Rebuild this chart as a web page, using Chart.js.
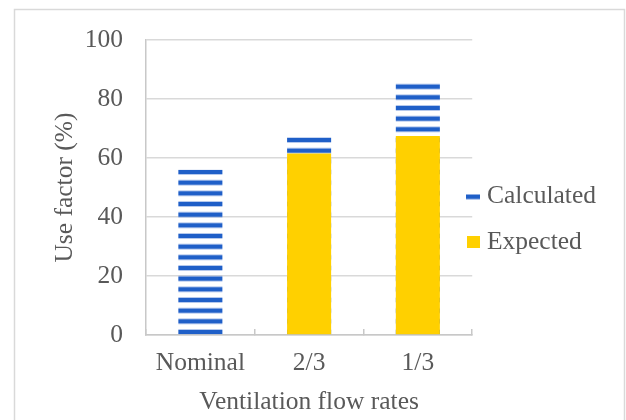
<!DOCTYPE html>
<html>
<head>
<meta charset="utf-8">
<script src="https://cdn.jsdelivr.net/npm/chart.js@4/dist/chart.umd.min.js"></script>
<style>
  html, body { margin: 0; padding: 0; background: #ffffff; }
  #wrap { width: 626px; height: 420px; position: relative; }
</style>
</head>
<body>
<div id="wrap"><canvas id="c" width="626" height="420"></canvas></div>
<script>
// Use factor per ventilation flow rate
const categories = ['Nominal', '2/3', '1/3'];
const calculated = [56, 67, 86];
const expected = [null, 61.5, 67.5];
const yTicks = [0, 20, 40, 60, 80, 100];

const TEXT = '#595959';
const FONT = { family: "'Liberation Serif', 'Times New Roman', serif", size: 25.5 };
const BLUE = '#1f5fc8';
const YELLOW = '#ffd000';

// Horizontal stripe fill for the calculated bars (period ~10.67px)
function stripePattern() {
  const tile = document.createElement('canvas');
  tile.width = 8; tile.height = 32;
  const g = tile.getContext('2d');
  const period = 32 / 3;
  for (let k = 0; k < 3; k++) {
    const t = 9 + k * period;
    for (const top of [t, t - 32]) {
      g.fillStyle = 'rgba(90,135,215,0.45)';
      g.fillRect(0, top, 8, 6);
      g.fillStyle = BLUE;
      g.fillRect(0, top + 1, 8, 4);
    }
  }
  return document.getElementById('c').getContext('2d').createPattern(tile, 'repeat');
}

function markCalculated() {
  const m = document.createElement('canvas');
  m.width = 14; m.height = 6;
  const g = m.getContext('2d');
  g.fillStyle = 'rgba(90,135,215,0.45)';
  g.fillRect(0, 0, 14, 6);
  g.fillStyle = BLUE;
  g.fillRect(0, 1, 14, 4);
  return m;
}
function markExpected() {
  const m = document.createElement('canvas');
  m.width = 13; m.height = 12;
  const g = m.getContext('2d');
  g.fillStyle = YELLOW;
  g.fillRect(0, 0, 13, 12);
  return m;
}
const markers = [markCalculated(), markExpected()];

// Outer frame around the whole figure
const framePlugin = {
  id: 'frame',
  beforeDraw(chart) {
    const ctx = chart.ctx;
    ctx.save();
    ctx.strokeStyle = '#d9d9d9';
    ctx.lineWidth = 1.5;
    ctx.strokeRect(14.5, 9.5, 610, 420);
    ctx.restore();
  }
};

// Nudge the legend so it sits tight against the plot
const legendNudge = {
  id: 'legendNudge',
  afterLayout(chart) {
    const lg = chart.legend;
    if (!lg) return;
    const dx = -20, dy = -10.5;
    lg.left += dx; lg.right += dx;
    lg.top += dy; lg.bottom += dy;
  }
};

new Chart(document.getElementById('c'), {
  type: 'bar',
  data: {
    labels: categories,
    datasets: [
      { label: 'Calculated', data: calculated, backgroundColor: stripePattern(), borderWidth: 0, order: 1 },
      { label: 'Expected', data: expected, backgroundColor: YELLOW, borderWidth: 0, order: 0 }
    ]
  },
  options: {
    responsive: false,
    animation: false,
    devicePixelRatio: 1,
    categoryPercentage: 1.0,
    barPercentage: 0.405,
    layout: { padding: { top: 40, right: 0, bottom: 0, left: 0 } },
    plugins: {
      tooltip: { enabled: false },
      legend: {
        position: 'right',
        maxWidth: 155,
        labels: {
          usePointStyle: true,
          pointStyleWidth: 2,
          padding: 20,
          color: TEXT,
          font: FONT,
          generateLabels: chart => chart.data.datasets.map((ds, i) => ({
            text: ds.label,
            fillStyle: 'transparent',
            strokeStyle: 'transparent',
            lineWidth: 0,
            pointStyle: markers[i],
            datasetIndex: i,
            hidden: false,
            fontColor: TEXT
          }))
        }
      }
    },
    scales: {
      x: {
        stacked: true,
        grid: { offset: true, drawOnChartArea: false, drawTicks: true, tickLength: -6, color: '#c8c8c8', lineWidth: 1.5 },
        border: { color: '#c8c8c8', width: 1.5 },
        ticks: { color: TEXT, font: FONT, padding: 19, maxRotation: 0 },
        title: { display: true, text: 'Ventilation flow rates', color: TEXT, font: FONT, padding: { top: 0, bottom: 2.7 } },
        afterFit(scale) { scale.height = 85; }
      },
      y: {
        min: 0,
        max: 100,
        grid: { color: '#d9d9d9', lineWidth: 1.5, drawTicks: false },
        border: { color: '#c8c8c8', width: 1.5 },
        ticks: { color: TEXT, font: FONT, padding: 23 },
        afterBuildTicks(scale) { scale.ticks = yTicks.map(v => ({ value: v })); },
        title: { display: true, text: 'Use factor (%)', color: TEXT, font: FONT, padding: { top: 50, bottom: 0 } },
        afterFit(scale) { scale.width = 146; }
      }
    }
  },
  plugins: [framePlugin, legendNudge]
});
</script>
</body>
</html>
